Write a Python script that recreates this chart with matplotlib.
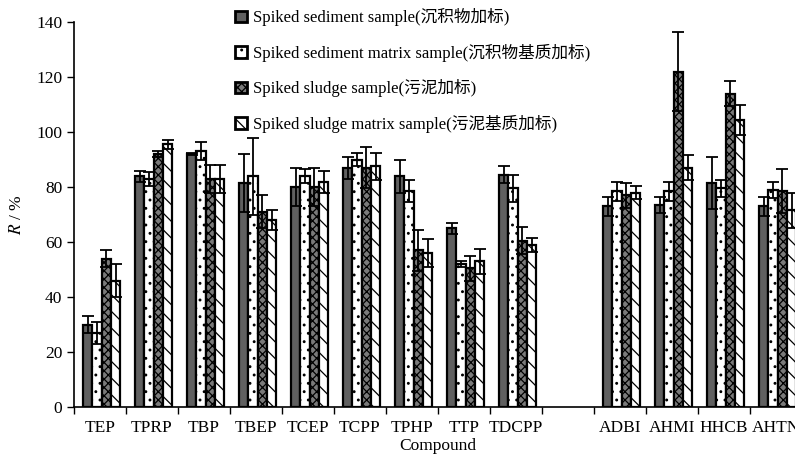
import numpy as np
import matplotlib
matplotlib.use("Agg")
from matplotlib import pyplot as plt
from matplotlib.patches import Patch

compounds = ["TEP", "TPRP", "TBP", "TBEP", "TCEP", "TCPP", "TPHP", "TTP", "TDCPP",
             "", "ADBI", "AHMI", "HHCB", "AHTN"]

# recovery means (%) per series, None for the empty gap slot
sediment = [30, 84, 92, 81.5, 80, 87, 84, 65, 84.5, None, 73, 73.5, 81.5, 73]
sediment_matrix = [27, 83, 93, 84, 84, 90, 78.5, 52, 79.5, None, 78.5, 78.5, 79.5, 79]
sludge = [54, 92, 83, 71, 80, 87, 57, 50.5, 60.5, None, 77, 122, 114, 78.5]
sludge_matrix = [46, 95.5, 83, 68, 82, 87.5, 56, 53, 58.8, None, 78, 87, 104.5, 71.5]

sediment_err = [3, 2, 0.5, 10.5, 7, 4, 6, 2, 3, None, 3.5, 3, 9.5, 3.5]
sediment_matrix_err = [4, 2.5, 3.3, 14, 2.5, 2.5, 4, 1, 5, None, 3.5, 3.5, 3, 3]
sludge_err = [3, 1, 5, 6, 7, 7.5, 7.5, 4.5, 5, None, 4.5, 14.5, 4.5, 8]
sludge_matrix_err = [6, 1.5, 5, 3.5, 4, 5, 5, 4.5, 2.5, None, 2.5, 4.5, 5.5, 6.5]

labels = ["Spiked sediment sample(沉积物加标)",
          "Spiked sediment matrix sample(沉积物基质加标)",
          "Spiked sludge sample(污泥加标)",
          "Spiked sludge matrix sample(污泥基质加标)"]

FONT = ["Liberation Serif", "Noto Sans CJK SC", "DejaVu Sans"]
plt.rcParams["font.family"] = FONT
plt.rcParams["mathtext.fontset"] = "stix"
plt.rcParams["hatch.linewidth"] = 0.9

styles = [
    dict(facecolor="#606060", hatch=None),
    dict(facecolor="white", hatch=".."),
    dict(facecolor="#7a7a7a", hatch="xxxx"),
    dict(facecolor="white", hatch="\\\\"),
]

fig = plt.figure(figsize=(7.95, 4.55), dpi=100)
ax = fig.add_axes([74 / 795, 48 / 455, (802 - 74) / 795, 385 / 455])

series = [sediment, sediment_matrix, sludge, sludge_matrix]
errs = [sediment_err, sediment_matrix_err, sludge_err, sludge_matrix_err]
w = 0.18
x = np.arange(len(compounds))
for i, (vals, err) in enumerate(zip(series, errs)):
    idx = [j for j, v in enumerate(vals) if v is not None]
    xs = x[idx] + (i - 1.5) * w + 0.03
    v = [vals[j] for j in idx]
    e = [err[j] for j in idx]
    ax.bar(xs, v, w, edgecolor="black", linewidth=1.6, zorder=2, **styles[i])
    ax.errorbar(xs, v, yerr=e, fmt="none", ecolor="black", elinewidth=1.3,
                capsize=4, capthick=1.3, zorder=3)

ax.set_xlim(-0.5, len(compounds) - 0.5)
ax.set_ylim(0, 140)
ax.set_yticks(range(0, 141, 20))
ax.set_xticks(x)
ax.set_xticklabels(compounds)
ax.set_xticks(np.arange(-0.5, len(compounds), 1), minor=True)
ax.tick_params(axis="x", which="major", length=0, labelsize=12.5, pad=9)
ax.tick_params(axis="x", which="minor", length=5, width=1, direction="out")
ax.tick_params(axis="y", length=5, width=1, direction="out", labelsize=12.5)
for s in ["top", "right"]:
    ax.spines[s].set_visible(False)
for s in ["left", "bottom"]:
    ax.spines[s].set_linewidth(1.2)

ax.set_xlabel("Compound", fontsize=12.5, labelpad=2)
ax.set_ylabel("$R$ / %", fontsize=12.5, labelpad=8)

handles = [Patch(edgecolor="black", linewidth=2, **st) for st in styles]
fig.legend(handles, labels, loc="upper left", bbox_to_anchor=(220 / 795, 1.015),
           frameon=False, fontsize=12, handlelength=0.7, handleheight=0.7,
           handletextpad=0.4, labelspacing=1.05)

fig.savefig("out.png", dpi=100)
